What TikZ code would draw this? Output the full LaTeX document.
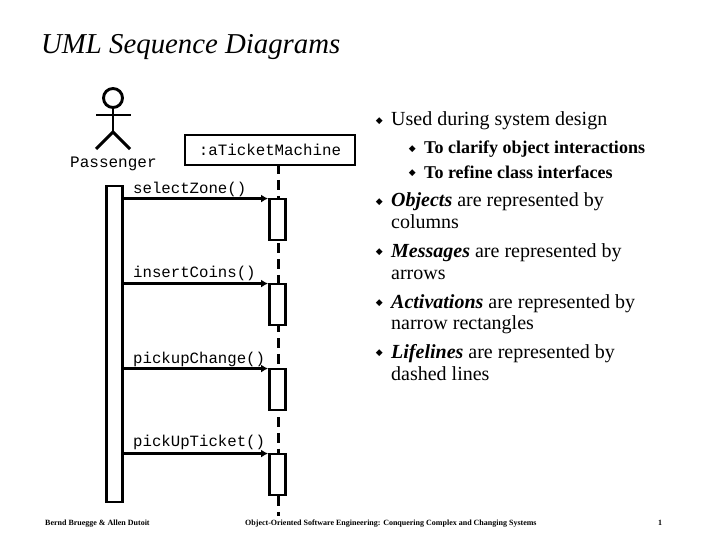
\documentclass[tikz,border=0pt]{standalone}
\usepackage{fontspec}
\setmainfont{Liberation Serif}
\setmonofont{Liberation Mono}
\newfontfamily\bulletfont{DejaVu Sans}
\usetikzlibrary{arrows.meta, positioning}
\tikzset{
  x=1pt, y=-1pt,
  thick line/.style={line width=2.9pt},
  bar/.style={draw, thick line, fill=white, inner sep=0pt, minimum width=16pt},
  msg/.style={line width=2.6pt, -{Latex[length=7pt,width=8pt]}},
  msglabel/.style={anchor=base west, inner sep=0pt, font=\ttfamily\fontsize{15.7}{18}\selectfont},
  item/.style={anchor=base west, inner sep=0pt, align=left, font=\fontsize{20}{22}\selectfont},
  subitem/.style={anchor=base west, inner sep=0pt, font=\bfseries\fontsize{18}{20}\selectfont},
  bullet/.style={inner sep=0pt, font=\bulletfont\fontsize{9}{9}\selectfont},
  foot/.style={anchor=base west, inner sep=0pt, font=\bfseries\fontsize{8}{9}\selectfont},
}

\begin{document}
\begin{tikzpicture}
  \useasboundingbox (0,0) rectangle (720,540);

  \node[anchor=base west, inner sep=0pt, font=\itshape\fontsize{28.8}{32}\selectfont] (title) at (41,54) {UML Sequence Diagrams};

  % actor
  \node[circle, draw, thick line, minimum size=19pt, inner sep=0pt] (head) at (113,98) {};
  \coordinate (hip) at (113,132);
  \draw[thick line] (head.south) -- (hip);
  \draw[thick line] (96,115) -- (131,115);
  \draw[thick line] (96,149) -- (hip) -- (130,149);
  \node[msglabel, font=\ttfamily\fontsize{16}{18}\selectfont] (passenger) at (70,168) {Passenger};

  % object and lifeline
  \coordinate (lifeend) at (278,516);
  \draw[line width=3pt, dash pattern=on 10pt off 5.8pt] (278,164.2) -- (lifeend);
  \node[draw, thick line, fill=white, minimum width=170pt, minimum height=30pt, inner sep=0pt, font=\ttfamily\fontsize{15.8}{18}\selectfont] (machine) at (270,150) {\raisebox{1pt}{:aTicketMachine}};

  % activations
  \node[bar, minimum height=316pt] (passbar) at (114.5,344) {};
  \node[bar, minimum height=41pt] (zonebar) at (277.5,219.5) {};
  \node[bar, minimum height=41pt] (coinsbar) at (277.5,304.5) {};
  \node[bar, minimum height=41pt] (changebar) at (277.5,389.5) {};
  \node[bar, minimum height=41pt] (ticketbar) at (277.5,474.5) {};

  % messages
  \foreach \barname/\msgname/\ypos in {zonebar/selectZone()/194, coinsbar/insertCoins()/277, changebar/pickupChange()/363, ticketbar/pickUpTicket()/446} {
    \node[msglabel] (\barname label) at (133,\ypos) {\msgname};
    \draw[msg] ([yshift=-1pt]passbar.east |- \barname.north west) -- ([yshift=-1pt]\barname.north west);
  }

  % bullets
  \node[item] (used) at (391,126) {Used during system design};
  \node[bullet, left=8pt of used.west] (usedmark) {◆};
  \node[subitem] (clarify) at (424,154) {To clarify object interactions};
  \node[bullet, left=8pt of clarify.west] (clarifymark) {◆};
  \node[subitem] (refine) at (424,179) {To refine class interfaces};
  \node[bullet, left=8pt of refine.west] (refinemark) {◆};

  \node[item] (objects) at (391,207) {\textbf{\textit{Objects}} are represented by};
  \node[item] (objectsb) at (391,229) {columns};
  \node[bullet, left=8pt of objects.west] (objectsmark) {◆};
  \node[item] (messages) at (391,257) {\textbf{\textit{Messages}} are represented by};
  \node[item] (messagesb) at (391,279) {arrows};
  \node[bullet, left=8pt of messages.west] (messagesmark) {◆};
  \node[item] (activations) at (391,308) {\textbf{\textit{Activations}} are represented by};
  \node[item] (activationsb) at (391,329) {narrow rectangles};
  \node[bullet, left=8pt of activations.west] (activationsmark) {◆};
  \node[item] (lifelines) at (391,358) {\textbf{\textit{Lifelines}} are represented by};
  \node[item] (lifelinesb) at (391,380) {dashed lines};
  \node[bullet, left=8pt of lifelines.west] (lifelinesmark) {◆};

  % footer
  \node[foot] (authors) at (45,525) {Bernd Bruegge \& Allen Dutoit};
  \node[foot] (book) at (245,525) {Object-Oriented Software Engineering: Conquering Complex and Changing Systems};
  \node[foot] (page) at (658,525) {1};
\end{tikzpicture}
\end{document}
